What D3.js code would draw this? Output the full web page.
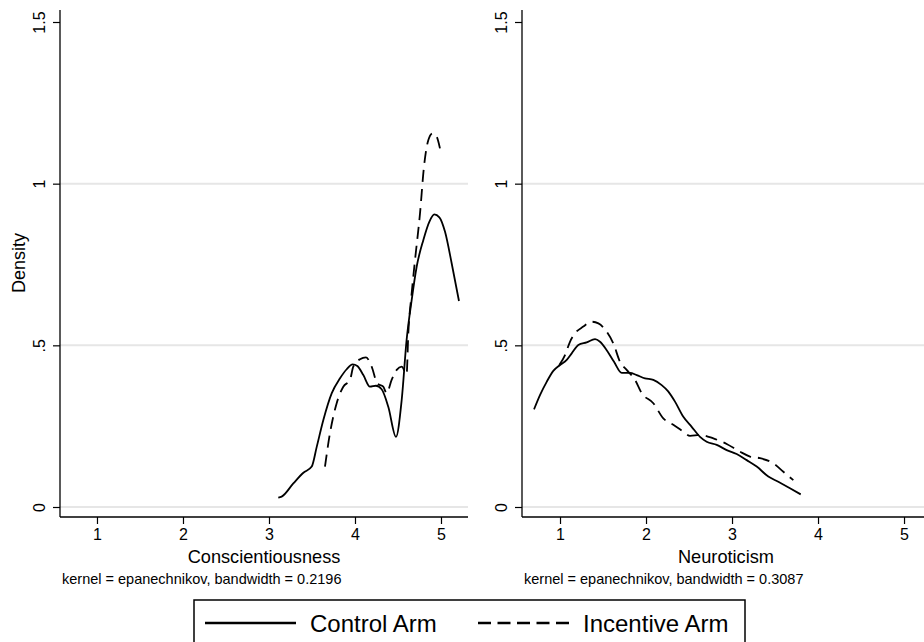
<!DOCTYPE html>
<html>
<head>
<meta charset="utf-8">
<script src="https://cdn.jsdelivr.net/npm/d3@7"></script>
<style>
  body { margin: 0; background: #fff; }
  svg { display: block; font-family: "Liberation Sans", Arial, sans-serif; }
</style>
</head>
<body>
<svg id="chart" width="924" height="642"></svg>
<script>
// density estimates: [x, density]
const conscControl = [
  [3.108, 0.029], [3.147, 0.032], [3.283, 0.073], [3.40, 0.106], [3.497, 0.125],
  [3.555, 0.186], [3.632, 0.269], [3.73, 0.352], [3.826, 0.398], [3.903, 0.426],
  [3.973, 0.441], [4.027, 0.436], [4.097, 0.408], [4.174, 0.372], [4.244, 0.375],
  [4.31, 0.364], [4.387, 0.310], [4.477, 0.217], [4.543, 0.331], [4.60, 0.516],
  [4.659, 0.640], [4.717, 0.743], [4.795, 0.826], [4.864, 0.882], [4.922, 0.905],
  [4.981, 0.896], [5.047, 0.851], [5.124, 0.754], [5.209, 0.637]
];
const conscIncentive = [
  [3.651, 0.125], [3.709, 0.228], [3.787, 0.321], [3.864, 0.372], [3.942, 0.393],
  [3.98, 0.434], [4.058, 0.457], [4.128, 0.463], [4.194, 0.434], [4.259, 0.382],
  [4.329, 0.372], [4.368, 0.352], [4.426, 0.393], [4.485, 0.424], [4.543, 0.434],
  [4.60, 0.411], [4.62, 0.537], [4.659, 0.661], [4.698, 0.764], [4.756, 0.908],
  [4.802, 1.052], [4.853, 1.135], [4.903, 1.156], [4.95, 1.145], [4.988, 1.109]
];
const neuroControl = [
  [0.698, 0.302], [0.767, 0.346], [0.845, 0.387], [0.922, 0.421], [1.0, 0.439],
  [1.078, 0.455], [1.136, 0.475], [1.213, 0.501], [1.31, 0.509], [1.407, 0.519],
  [1.465, 0.511], [1.543, 0.485], [1.628, 0.449], [1.717, 0.415], [1.814, 0.415],
  [1.892, 0.408], [1.988, 0.398], [2.085, 0.393], [2.182, 0.377], [2.26, 0.357],
  [2.337, 0.326], [2.434, 0.279], [2.531, 0.248], [2.628, 0.217], [2.705, 0.202],
  [2.822, 0.192], [2.938, 0.176], [3.054, 0.164], [3.171, 0.145], [3.287, 0.125],
  [3.422, 0.094], [3.538, 0.078], [3.674, 0.058], [3.799, 0.039]
];
const neuroIncentive = [
  [0.992, 0.439], [1.058, 0.470], [1.116, 0.511], [1.174, 0.537], [1.271, 0.558],
  [1.368, 0.573], [1.446, 0.568], [1.543, 0.542], [1.62, 0.506], [1.698, 0.449],
  [1.775, 0.424], [1.872, 0.393], [1.95, 0.352], [2.085, 0.321], [2.201, 0.274],
  [2.317, 0.254], [2.434, 0.233], [2.512, 0.220], [2.628, 0.223], [2.783, 0.212],
  [2.938, 0.195], [3.093, 0.171], [3.209, 0.156], [3.326, 0.151], [3.48, 0.135],
  [3.597, 0.109], [3.713, 0.083]
];

const xTicks = [1, 2, 3, 4, 5];
const yTicks = [0, 0.5, 1, 1.5];
const gridTicks = [0, 0.5, 1];
const panelTitles = ['Conscientiousness', 'Neuroticism'];
const panelNotes = [
  'kernel = epanechnikov, bandwidth = 0.2196',
  'kernel = epanechnikov, bandwidth = 0.3087'
];
const seriesNames = ['Control Arm', 'Incentive Arm'];

const DASH = '12,7';
const LEGEND_DASH = '13,6.5';
const svg = d3.select('#chart');

// both panels share the same y scale
const plotTop = 10, plotBottom = 517;
const y = d3.scaleLinear().domain([0, 1.5]).range([507, 22]);

const panels = [
  { left: 60, right: 468, domain: [0.570, 5.314], control: conscControl, incentive: conscIncentive },
  { left: 522, right: 930, domain: [0.558, 5.302], control: neuroControl, incentive: neuroIncentive }
];

panels.forEach((p, i) => {
  const x = d3.scaleLinear().domain(p.domain).range([p.left, p.right]);
  const g = svg.append('g');

  // light grey grid
  g.selectAll('line.grid')
    .data(gridTicks)
    .join('line')
    .attr('class', 'grid')
    .attr('x1', p.left).attr('x2', p.right)
    .attr('y1', d => y(d)).attr('y2', d => y(d))
    .attr('stroke', '#e6e6e6')
    .attr('stroke-width', 2);

  // y axis
  const yAxis = g.append('g')
    .attr('transform', `translate(${p.left},0)`)
    .call(d3.axisLeft(y).tickValues(yTicks).tickSize(7).tickSizeOuter(0)
      .tickFormat(d => d === 0 ? '0' : String(d).replace(/^0/, '')));
  yAxis.select('.domain').remove();
  yAxis.append('line')
    .attr('y1', plotTop).attr('y2', plotBottom)
    .attr('stroke', '#000').attr('stroke-width', 1.3);
  yAxis.selectAll('.tick line').attr('stroke', '#000').attr('stroke-width', 1.2);
  yAxis.selectAll('.tick text')
    .attr('transform', 'rotate(-90)')
    .attr('x', 0).attr('y', -15).attr('dy', 0)
    .attr('text-anchor', 'middle')
    .style('font-size', '16px')
    .style('font-family', '"Liberation Sans", Arial, sans-serif')
    .attr('fill', '#000');

  // x axis
  const xAxis = g.append('g')
    .attr('transform', `translate(0,${plotBottom})`)
    .call(d3.axisBottom(x).tickValues(xTicks).tickSize(7).tickSizeOuter(0).tickFormat(d3.format('d')));
  xAxis.select('.domain').remove();
  xAxis.append('line')
    .attr('x1', p.left).attr('x2', p.right)
    .attr('stroke', '#000').attr('stroke-width', 1.3);
  xAxis.selectAll('.tick line').attr('stroke', '#000').attr('stroke-width', 1.2);
  xAxis.selectAll('.tick text')
    .attr('y', 12).attr('dy', '0.71em')
    .style('font-size', '16px')
    .style('font-family', '"Liberation Sans", Arial, sans-serif')
    .attr('fill', '#000');

  // density curves
  const line = d3.line()
    .x(d => x(d[0]))
    .y(d => y(d[1]))
    .curve(d3.curveMonotoneX);

  g.append('path')
    .datum(p.control)
    .attr('d', line)
    .attr('fill', 'none')
    .attr('stroke', '#000')
    .attr('stroke-width', 1.8);

  g.append('path')
    .datum(p.incentive)
    .attr('d', line)
    .attr('fill', 'none')
    .attr('stroke', '#000')
    .attr('stroke-width', 1.8)
    .attr('stroke-dasharray', DASH);

  // axis title and kernel note
  g.append('text')
    .attr('x', (p.left + p.right) / 2)
    .attr('y', 563)
    .attr('text-anchor', 'middle')
    .style('font-size', '18.2px')
    .text(panelTitles[i]);

  g.append('text')
    .attr('x', p.left + 2)
    .attr('y', 584)
    .style('font-size', '14.5px')
    .text(panelNotes[i]);
});

// y axis title, left panel only
svg.append('text')
  .attr('transform', 'translate(25,263) rotate(-90)')
  .attr('text-anchor', 'middle')
  .style('font-size', '18px')
  .text('Density');

// legend, its lower edge falls outside the picture
const legend = svg.append('g');
legend.append('rect')
  .attr('x', 194).attr('y', 600)
  .attr('width', 551).attr('height', 60)
  .attr('fill', '#fff')
  .attr('stroke', '#000')
  .attr('stroke-width', 1.5);

const legendItems = [
  { name: seriesNames[0], x: 205, dash: null },
  { name: seriesNames[1], x: 478, dash: LEGEND_DASH }
];
legendItems.forEach(item => {
  legend.append('line')
    .attr('x1', item.x).attr('x2', item.x + 91)
    .attr('y1', 623).attr('y2', 623)
    .attr('stroke', '#000')
    .attr('stroke-width', 2.4)
    .attr('stroke-dasharray', item.dash);
  legend.append('text')
    .attr('x', item.x + 105)
    .attr('y', 632)
    .style('font-size', '24px')
    .text(item.name);
});
</script>
</body>
</html>
